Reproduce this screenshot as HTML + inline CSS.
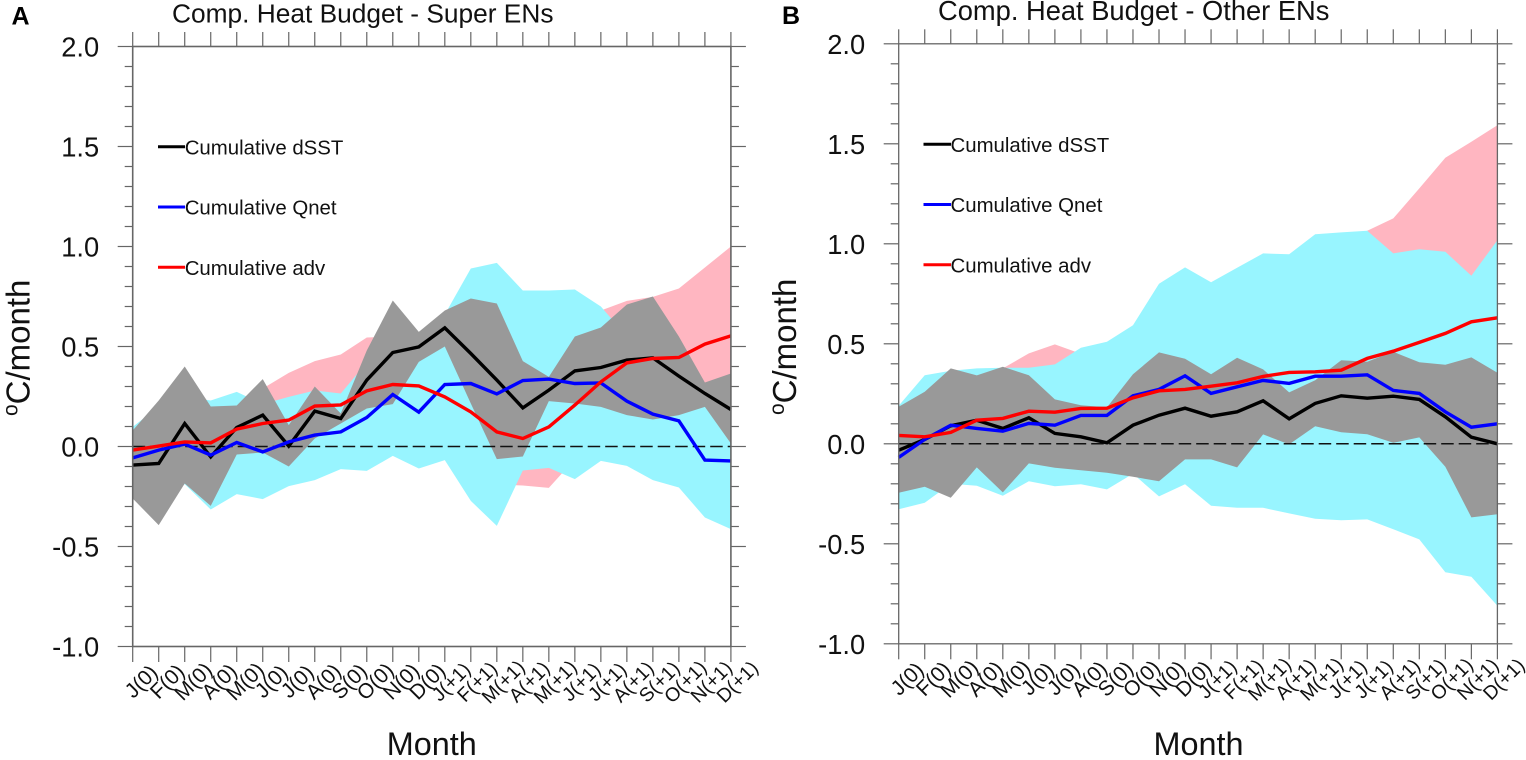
<!DOCTYPE html>
<html lang="en">
<head>
<meta charset="utf-8">
<title>Comp. Heat Budget</title>
<style>
html,body{margin:0;padding:0;background:#fff;width:1526px;height:760px;overflow:hidden}
svg{display:block;font-family:"Liberation Sans",sans-serif;fill:#111;filter:blur(0.35px)}
</style>
</head>
<body>
<svg id="figure" xmlns="http://www.w3.org/2000/svg" width="1526" height="760" viewBox="0 0 1526 760">
  <rect x="0" y="0" width="1526" height="760" fill="#fff"/>

  <g id="panel-a"></g>
  <g id="panel-b"></g>

  <text x="11.5" y="24.5" font-size="25" font-weight="700" fill="#000">A</text>
  <text x="172" y="22.5" font-size="26.3">Comp. Heat Budget - Super ENs</text>
  <text transform="translate(29.5,416) rotate(-90)" font-size="33"><tspan font-size="21" dy="-12">o</tspan><tspan dy="12">C/month</tspan></text>
  <text x="431.8" y="755" font-size="32.4" text-anchor="middle">Month</text>
  <g font-size="20.4">
    <line x1="158" x2="185" y1="146.7" y2="146.7" stroke="#000" stroke-width="3"/>
    <text x="184.7" y="154.3">Cumulative dSST</text>
    <line x1="158" x2="185" y1="207" y2="207" stroke="#00f" stroke-width="3"/>
    <text x="184.7" y="214.6">Cumulative Qnet</text>
    <line x1="158" x2="185" y1="267.3" y2="267.3" stroke="#f00" stroke-width="3"/>
    <text x="184.7" y="274.9">Cumulative adv</text>
  </g>

  <text x="782" y="24" font-size="25" font-weight="700" fill="#000">B</text>
  <text x="938" y="20" font-size="27.3">Comp. Heat Budget - Other ENs</text>
  <text transform="translate(796,415) rotate(-90)" font-size="33"><tspan font-size="21" dy="-12">o</tspan><tspan dy="12">C/month</tspan></text>
  <text x="1198.5" y="755" font-size="32.4" text-anchor="middle">Month</text>
  <g font-size="20.4">
    <line x1="923.5" x2="951" y1="144.3" y2="144.3" stroke="#000" stroke-width="3"/>
    <text x="950.5" y="152">Cumulative dSST</text>
    <line x1="923.5" x2="951" y1="204.5" y2="204.5" stroke="#00f" stroke-width="3"/>
    <text x="950.5" y="212.2">Cumulative Qnet</text>
    <line x1="923.5" x2="951" y1="264.7" y2="264.7" stroke="#f00" stroke-width="3"/>
    <text x="950.5" y="272.4">Cumulative adv</text>
  </g>
</svg>

<script>
const months = ["J(0)","F(0)","M(0)","A(0)","M(0)","J(0)","J(0)","A(0)","S(0)","O(0)","N(0)","D(0)","J(+1)","F(+1)","M(+1)","A(+1)","M(+1)","J(+1)","J(+1)","A(+1)","S(+1)","O(+1)","N(+1)","D(+1)"];
const yTickValues = [2.0,1.5,1.0,0.5,0.0,-0.5,-1.0];
const yTickLabels = ["2.0","1.5","1.0","0.5","0.0","-0.5","-1.0"];

/* Panel A: Super ENs */
const aDsst = [-0.093,-0.085,0.115,-0.052,0.095,0.157,0.002,0.177,0.14,0.332,0.47,0.498,0.593,0.465,0.332,0.193,0.282,0.378,0.395,0.432,0.443,0.352,0.265,0.185];
const aQnet = [-0.057,-0.018,0.012,-0.043,0.02,-0.027,0.023,0.057,0.073,0.145,0.26,0.172,0.31,0.315,0.263,0.33,0.337,0.315,0.318,0.227,0.162,0.128,-0.068,-0.072];
const aAdv = [-0.018,0.002,0.023,0.018,0.087,0.115,0.132,0.202,0.208,0.278,0.31,0.303,0.248,0.173,0.073,0.04,0.098,0.207,0.323,0.418,0.44,0.445,0.512,0.553];
const aDsstUpper = [0.08,0.23,0.40,0.20,0.205,0.337,0.107,0.30,0.165,0.48,0.73,0.573,0.68,0.74,0.715,0.427,0.348,0.55,0.595,0.71,0.75,0.55,0.32,0.365];
const aDsstLower = [-0.26,-0.393,-0.185,-0.297,-0.04,-0.03,-0.10,0.04,0.115,0.19,0.212,0.423,0.50,0.215,-0.063,-0.05,0.227,0.215,0.198,0.157,0.135,0.157,0.198,0.015];
const aQnetUpper = [0.098,0.20,0.25,0.23,0.273,0.212,0.248,0.28,0.265,0.42,0.45,0.52,0.66,0.89,0.918,0.78,0.78,0.785,0.70,0.55,0.35,0.25,0.25,0.10];
const aQnetLower = [-0.2,-0.28,-0.188,-0.315,-0.238,-0.263,-0.198,-0.168,-0.113,-0.122,-0.047,-0.11,-0.068,-0.272,-0.397,-0.12,-0.107,-0.163,-0.072,-0.097,-0.168,-0.205,-0.355,-0.413];
const aAdvUpper = [0.05,0.08,0.12,0.15,0.2,0.29,0.368,0.427,0.46,0.545,0.55,0.55,0.58,0.6,0.6,0.62,0.62,0.65,0.68,0.728,0.748,0.79,0.895,1.0];
const aAdvLower = [-0.1,-0.1,-0.1,-0.1,-0.05,-0.05,0.0,0.0,0.0,0.05,0.05,0.0,-0.05,-0.1,-0.19,-0.195,-0.207,-0.063,0.0,0.15,0.15,0.2,0.2,0.2];

/* Panel B: Other ENs */
const bDsst = [-0.032,0.022,0.09,0.118,0.077,0.13,0.052,0.035,0.005,0.093,0.143,0.178,0.138,0.16,0.215,0.125,0.202,0.24,0.228,0.238,0.222,0.135,0.033,0.0];
const bQnet = [-0.068,0.022,0.093,0.077,0.063,0.102,0.093,0.142,0.142,0.24,0.272,0.34,0.252,0.285,0.317,0.302,0.338,0.338,0.345,0.267,0.252,0.16,0.083,0.10];
const bAdv = [0.042,0.035,0.057,0.118,0.127,0.163,0.158,0.177,0.178,0.23,0.265,0.272,0.288,0.305,0.337,0.357,0.36,0.368,0.427,0.463,0.507,0.552,0.61,0.63];
const bDsstUpper = [0.185,0.26,0.377,0.342,0.385,0.343,0.222,0.193,0.182,0.348,0.457,0.425,0.348,0.43,0.372,0.257,0.318,0.418,0.41,0.46,0.408,0.395,0.432,0.355];
const bDsstLower = [-0.245,-0.215,-0.27,-0.118,-0.243,-0.098,-0.12,-0.132,-0.145,-0.165,-0.187,-0.078,-0.078,-0.118,0.047,-0.003,0.088,0.058,0.048,0.005,0.032,-0.115,-0.368,-0.352];
const bQnetUpper = [0.19,0.343,0.365,0.377,0.38,0.38,0.397,0.48,0.51,0.593,0.80,0.882,0.808,0.88,0.952,0.948,1.048,1.057,1.065,0.952,0.973,0.96,0.84,1.018];
const bQnetLower = [-0.327,-0.295,-0.2,-0.21,-0.26,-0.187,-0.212,-0.202,-0.228,-0.15,-0.263,-0.202,-0.31,-0.32,-0.32,-0.348,-0.375,-0.382,-0.378,-0.427,-0.478,-0.642,-0.665,-0.81];
const bAdvUpper = [0.1,0.15,0.2,0.3,0.377,0.452,0.497,0.45,0.48,0.55,0.6,0.65,0.7,0.75,0.85,0.9,0.95,1.0,1.065,1.127,1.277,1.43,1.51,1.593];
const bAdvLower = [-0.1,-0.1,-0.1,-0.08,-0.08,-0.07,-0.06,-0.06,-0.05,-0.05,-0.04,-0.03,-0.02,-0.02,0.0,0.0,0.02,0.03,0.05,0.1,0.15,0.2,0.25,0.3];

const NS = "http://www.w3.org/2000/svg";

function shape(parent, tag, geometry) {
  const el = document.createElementNS(NS, tag);
  for (const key in geometry) el.setAttribute(key, geometry[key]);
  parent.appendChild(el);
  return el;
}

function drawPanel(prefix, box, s) {
  const root = document.getElementById("panel-" + prefix);
  const xScale = i => box.x0 + i * (box.x1 - box.x0) / (months.length - 1);
  const yScale = v => box.yZero - v * box.pxPerUnit;
  const yTop = yScale(yTickValues[0]);
  const yBottom = yScale(yTickValues[yTickValues.length - 1]);

  const band = (upper, lower) => upper.map((v, i) => xScale(i) + "," + yScale(v))
    .concat(lower.map((v, i) => xScale(i) + "," + yScale(v)).reverse()).join(" ");
  const trace = values => values.map((v, i) => xScale(i) + "," + yScale(v)).join(" ");

  const advBand = shape(root, "polygon", {points: band(s.advUpper, s.advLower), fill: "#ffb6c1"});
  
  
  const qnetBand = shape(root, "polygon", {points: band(s.qnetUpper, s.qnetLower), fill: "#98f5ff"});
  
  
  const dsstBand = shape(root, "polygon", {points: band(s.dsstUpper, s.dsstLower), fill: "#999999"});
  
  

  const zeroLine = shape(root, "line", {x1: box.x0, x2: box.x1, y1: yScale(0), y2: yScale(0), stroke: "#111", "stroke-width": 1.5, "stroke-dasharray": "12.5 5"});
  
  

  const lineStyle = {fill: "none", "stroke-width": 3.4, "stroke-linejoin": "miter"};
  const dsstLine = shape(root, "polyline", Object.assign({points: trace(s.dsst), stroke: "#000"}, lineStyle));
  
  
  const qnetLine = shape(root, "polyline", Object.assign({points: trace(s.qnet), stroke: "#00f"}, lineStyle));
  
  
  const advLine = shape(root, "polyline", Object.assign({points: trace(s.adv), stroke: "#f00"}, lineStyle));
  
  

  const axisColor = "#666";
  const frame = shape(root, "rect", {x: box.x0, y: yTop, width: box.x1 - box.x0, height: yBottom - yTop, fill: "none", stroke: axisColor, "stroke-width": box.frameWidth});
  
  

  /* minor y ticks on both sides, one every tenth of a unit */
  const tickStyle = {stroke: axisColor, "stroke-width": 1.2};
  for (let n = 0; n <= 30; n++) {
    const v = yTickValues[0] - n * 0.1;
    const major = n % 5 === 0;
    const len = major ? 15 : 8;
    const left = shape(root, "line", Object.assign({x1: box.x0 - len, x2: box.x0, y1: yScale(v), y2: yScale(v)}, tickStyle));
    
    
    const right = shape(root, "line", Object.assign({x1: box.x1, x2: box.x1 + len, y1: yScale(v), y2: yScale(v)}, tickStyle));
    
    
  }

  yTickValues.forEach((v, i) => {
    const label = shape(root, "text", {x: box.x0 - 33.5, y: yScale(v) + 10, "text-anchor": "end", "font-size": 27.3});
    label.textContent = yTickLabels[i];
    
    
  });

  months.forEach((m, i) => {
    const top = shape(root, "line", Object.assign({x1: xScale(i), x2: xScale(i), y1: yTop - 14.5, y2: yTop}, tickStyle));
    
    
    const bottom = shape(root, "line", Object.assign({x1: xScale(i), x2: xScale(i), y1: yBottom, y2: yBottom + 15.5}, tickStyle));
    
    
    const nextYear = m.includes("+");
    const label = shape(root, "text", {transform: "translate(" + (xScale(i) + (nextYear ? 11 : 13.5)) + "," + (yBottom + 40) + ") rotate(-45)", "text-anchor": "middle", "font-size": nextYear ? 19.5 : 21});
    label.textContent = m;
    
    
  });
}

drawPanel("a", {x0: 132.7, x1: 730.9, yZero: 446.5, pxPerUnit: 200, frameWidth: 1.6}, {
  dsst: aDsst, qnet: aQnet, adv: aAdv,
  dsstUpper: aDsstUpper, dsstLower: aDsstLower,
  qnetUpper: aQnetUpper, qnetLower: aQnetLower,
  advUpper: aAdvUpper, advLower: aAdvLower
});
drawPanel("b", {x0: 898.7, x1: 1497.4, yZero: 443.8, pxPerUnit: 200, frameWidth: 1.3}, {
  dsst: bDsst, qnet: bQnet, adv: bAdv,
  dsstUpper: bDsstUpper, dsstLower: bDsstLower,
  qnetUpper: bQnetUpper, qnetLower: bQnetLower,
  advUpper: bAdvUpper, advLower: bAdvLower
});
</script>
</body>
</html>
